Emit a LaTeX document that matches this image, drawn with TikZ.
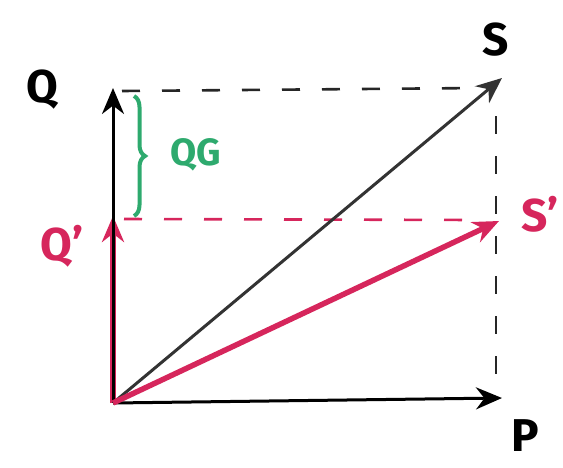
\documentclass[tikz,border=0pt]{standalone}
\usepackage{fontspec}
\setmainfont{Fira Sans}
\usetikzlibrary{arrows.meta,decorations.pathreplacing}
\definecolor{pinkred}{RGB}{214,38,92}
\definecolor{grn}{RGB}{46,170,110}
\tikzset{
  vec/.style={line width=3pt,-{Stealth[length=26pt,width=22pt]}},
  vecred/.style={vec,draw=pinkred,line width=5.5pt},
  guideline/.style={line width=2.6pt,dash pattern=on 18pt off 22pt},
  lbl/.style={font=\fontsize{46}{46}\selectfont\bfseries}
}
\begin{document}
\begin{tikzpicture}[x=1pt,y=-1pt]
\useasboundingbox (0,0) rectangle (563,467);
\coordinate (O) at (113,403);
\coordinate (P) at (502,398);
\coordinate (Q) at (113,88);
\coordinate (S) at (502,78);
\coordinate (Qp) at (113,216);
\coordinate (Sp) at (499,221);
\coordinate (Qd) at (122,91);
\coordinate (Sd) at (480,88);
\coordinate (St) at (496,116);
\coordinate (Pt) at (496,382);
\coordinate (Qpd) at (124,219);
\coordinate (Spd) at (478,220);
\coordinate (Bt) at (134,96);
\coordinate (Bb) at (134,216);
% dashed guide lines
\draw[guideline,black!85] (Qd) -- (Sd);
\draw[guideline,black!85] (St) -- (Pt);
\draw[guideline,pinkred] (Qpd) -- (Spd);
% vectors
\draw[vecred] (O) -- (Qp);
\draw[vec] (O) -- (Q);
\draw[vec] (O) -- (P);
\draw[vec,black!80] (O) -- (S);
\draw[vecred] (O) -- (Sp);
% brace
\draw[grn,line width=4pt,decorate,decoration={brace,amplitude=11pt}] (Bt) -- (Bb);
% labels
\node[lbl] (lQ) at (42,90) {Q};
\node[lbl] (lS) at (496,40) {S};
\node[lbl,text=pinkred] (lSp) at (540,214) {S'};
\node[lbl,text=pinkred] (lQp) at (62,246) {Q'};
\node[lbl] (lP) at (525,436) {P};
\node[lbl,text=grn,font=\fontsize{38}{38}\selectfont\bfseries] (lQG) at (196,155) {QG};
\end{tikzpicture}
\end{document}
